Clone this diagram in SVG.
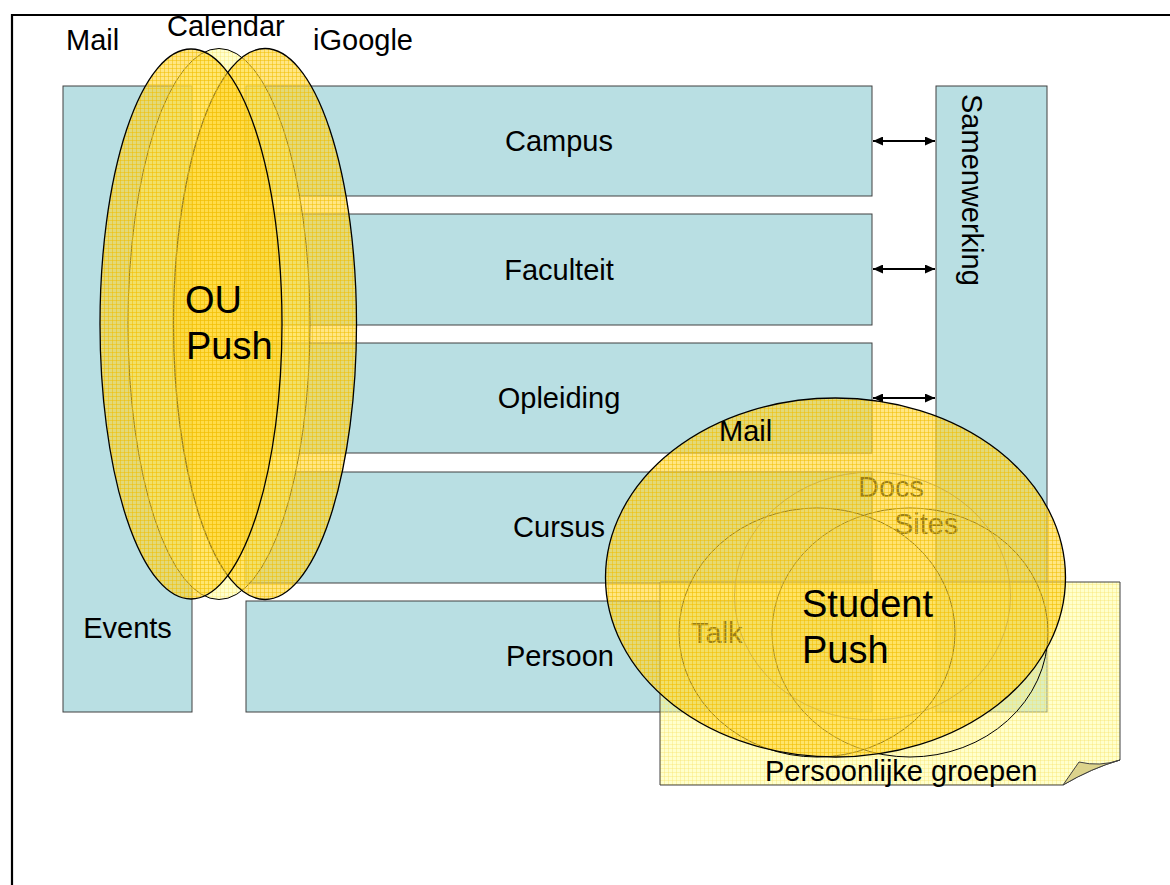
<svg xmlns="http://www.w3.org/2000/svg" width="1170" height="885" viewBox="0 0 1170 885">
<style>
text{font-family:"Liberation Sans",Arial,Helvetica,sans-serif;font-size:29px;fill:#000}
.box{fill:#B9DFE3;stroke:#404040;stroke-width:1}
.mid{text-anchor:middle}
.big{font-size:38px}
.ell{stroke:#000;stroke-width:1.3}
.thin{stroke:#000;stroke-width:1}
.arrow{stroke:#000;stroke-width:2;fill:none;marker-start:url(#ah);marker-end:url(#ah)}
</style>
<defs>
<pattern id="gold" patternUnits="userSpaceOnUse" width="4" height="4">
<rect width="4" height="4" fill="#FFD630" fill-opacity="0.6"/>
<path d="M0 0.5H4M0.5 0V4" stroke="#F2BC00" stroke-opacity="0.5" stroke-width="1"/>
</pattern>
<pattern id="light" patternUnits="userSpaceOnUse" width="4" height="4">
<rect width="4" height="4" fill="#FFFF99" fill-opacity="0.5"/>
<path d="M0 0.5H4M0.5 0V4" stroke="#F5E060" stroke-opacity="0.35" stroke-width="1"/>
</pattern>
<marker id="ah" viewBox="0 0 10 9" refX="10" refY="4.5" markerWidth="10" markerHeight="9" markerUnits="userSpaceOnUse" orient="auto-start-reverse">
<path d="M0 0L10 4.5L0 9Z" fill="#000"/>
</marker>
</defs>
<rect width="1170" height="885" fill="#fff"/>
<g id="frame"><path d="M12 890V15H1175" fill="none" stroke="#000" stroke-width="2.2"/></g>

<g id="node-events"><rect class="box" x="63" y="86" width="129" height="626"/><text class="mid" x="127.5" y="638">Events</text></g>
<g id="node-campus"><rect class="box" x="246" y="86" width="626" height="110"/><text class="mid" x="559" y="151">Campus</text></g>
<g id="node-faculteit"><rect class="box" x="246" y="214" width="626" height="111"/><text class="mid" x="559" y="280">Faculteit</text></g>
<g id="node-opleiding"><rect class="box" x="246" y="343" width="626" height="110"/><text class="mid" x="559" y="408">Opleiding</text></g>
<g id="node-cursus"><rect class="box" x="246" y="472" width="626" height="111"/><text class="mid" x="559" y="537">Cursus</text></g>
<g id="node-persoon"><rect class="box" x="246" y="601" width="626" height="111"/><text class="mid" x="560" y="666">Persoon</text></g>
<g id="node-samenwerking"><rect class="box" x="936" y="86" width="111" height="626"/><text transform="translate(962 94) rotate(90)">Samenwerking</text></g>

<g id="connectors">
<line class="arrow" x1="873" y1="141" x2="935" y2="141"/>
<line class="arrow" x1="873" y1="269" x2="935" y2="269"/>
<line class="arrow" x1="873" y1="398" x2="935" y2="398"/>
</g>

<g id="node-persoonlijke-groepen">
<path d="M660 582H1120V760Q1092 768 1063 785H660Z" fill="url(#light)" stroke="#404040" stroke-width="1"/>
<path d="M1063 785L1079 762Q1100 767 1120 760Q1092 768 1063 785Z" fill="#DCD38C" stroke="#404040" stroke-width="1"/>
<text x="765" y="781">Persoonlijke groepen</text>
</g>

<g id="node-student-push">
<ellipse cx="872.5" cy="596" rx="138" ry="124" fill="#FFEE88" fill-opacity="0.15" stroke="#777" stroke-width="1"/>
<ellipse class="thin" cx="910" cy="632.5" rx="138" ry="124.5" fill="#FFEE88" fill-opacity="0.15"/>
<ellipse class="thin" cx="817" cy="632.5" rx="138" ry="124.5" fill="#FFEE88" fill-opacity="0.15"/>
<text x="858" y="497">Docs</text>
<text x="894" y="534">Sites</text>
<text x="691" y="643">Talk</text>
<ellipse class="ell" cx="835.5" cy="577.5" rx="230" ry="179.5" fill="url(#gold)"/>
<text x="719" y="441">Mail</text>
<text class="big" x="802" y="617">Student</text>
<text class="big" x="802" y="663">Push</text>
</g>

<g id="node-ou-push">
<ellipse cx="219" cy="324" rx="91" ry="275.5" fill="url(#light)" stroke="#000" stroke-width="1"/>
<ellipse class="ell" cx="265" cy="324" rx="91.5" ry="275.5" fill="url(#gold)"/>
<ellipse class="ell" cx="191" cy="324" rx="91" ry="275" fill="url(#gold)"/>
<text class="big" x="185" y="313">OU</text>
<text class="big" x="186" y="359">Push</text>
<text x="66" y="50">Mail</text>
<text x="167" y="36">Calendar</text>
<text x="313" y="50">iGoogle</text>
</g>
</svg>
